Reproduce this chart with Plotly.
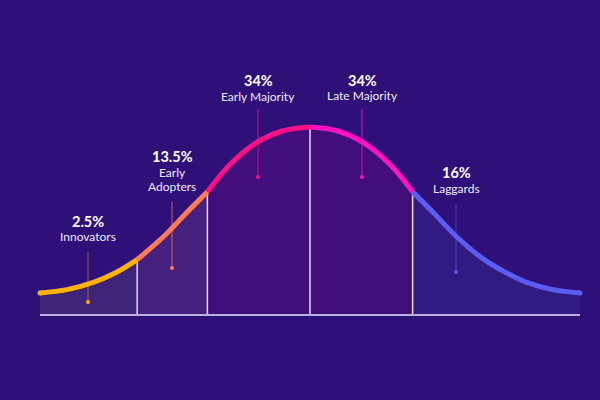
import plotly.graph_objects as go

# ---- data -------------------------------------------------------------
curve_x = [0, 5, 10, 14, 18, 23, 27, 31, 35, 40, 45, 50, 55, 60, 65, 69, 73, 77, 82, 86, 90, 95, 100]
curve_y = [11.7, 13.5, 17.5, 22.5, 29.5, 42, 54, 65.5, 79.5, 91.5, 98, 100, 98, 91.5, 79.5, 65.5, 54, 42, 30, 23, 17.5, 13.5, 11.7]

segment_bounds = [0, 18, 31, 50, 69, 100]
segment_shares = ["2.5%", "13.5%", "34%", "34%", "16%"]
segment_labels = [["Innovators"], ["Early", "Adopters"], ["Early Majority"], ["Late Majority"], ["Laggards"]]

# ---- styling / layout constants ----------------------------------------
BG = "#2f1078"
line_colors = ["#ffb300", "#ff7b55", "#ff0f85", "#ff12c4", "#5b5cf2"]
fill_colors = ["#3d2479", "#45207f", "#420e7c", "#420e7c", "#311a82"]
pointer_colors = ["rgba(255,170,0,0.5)", "rgba(255,123,85,0.75)", "rgba(255,15,133,0.75)",
                  "rgba(255,18,196,0.75)", "rgba(91,92,242,0.6)"]

# pixel -> data helpers (for layout positions only)
PX_X0, PX_PER_X = 40, 5.4
PX_Y0, PX_PER_Y = 315, 1.88


def dx(px):
    return (px - PX_X0) / PX_PER_X


def dy(py):
    return (PX_Y0 - py) / PX_PER_Y


pointer_px_x = [88, 172, 258, 362, 456]
pointer_px_top = [252, 202, 109, 109, 204]
pointer_px_bot = [302, 268, 177, 177, 272]
share_px_y = [221, 156, 80, 80, 172]
label_px_y = [[236], [172.5, 186], [96.5], [95.5], [188.5]]

fig = go.Figure()

# segment fills
for i in range(5):
    lo, hi = segment_bounds[i], segment_bounds[i + 1]
    xs = [x for x in curve_x if lo <= x <= hi]
    ys = [y for x, y in zip(curve_x, curve_y) if lo <= x <= hi]
    fig.add_trace(go.Scatter(x=xs, y=ys, mode="lines", line=dict(width=0, shape="spline", smoothing=1),
                             fill="tozeroy", fillcolor=fill_colors[i], hoverinfo="skip", showlegend=False))

# vertical boundary lines
for b in segment_bounds[1:-1]:
    yb = curve_y[curve_x.index(b)]
    fig.add_trace(go.Scatter(x=[b, b], y=[0, yb], mode="lines", line=dict(color="#e6def2", width=1.5),
                             hoverinfo="skip", showlegend=False))

# pointer lines with dots
for i in range(5):
    px = dx(pointer_px_x[i])
    fig.add_trace(go.Scatter(x=[px, px], y=[dy(pointer_px_top[i]), dy(pointer_px_bot[i])], mode="lines",
                             line=dict(color=pointer_colors[i], width=1), hoverinfo="skip", showlegend=False))
    fig.add_trace(go.Scatter(x=[px], y=[dy(pointer_px_bot[i])], mode="markers",
                             marker=dict(color=line_colors[i], size=4), hoverinfo="skip", showlegend=False))

# curve segments
for i in range(5):
    lo, hi = segment_bounds[i], segment_bounds[i + 1]
    xs = [x for x in curve_x if lo <= x <= hi]
    ys = [y for x, y in zip(curve_x, curve_y) if lo <= x <= hi]
    fig.add_trace(go.Scatter(x=xs, y=ys, mode="lines",
                             line=dict(color=line_colors[i], width=5, shape="spline", smoothing=1),
                             hoverinfo="skip", showlegend=False))

# round caps at the ends
fig.add_trace(go.Scatter(x=[curve_x[0]], y=[curve_y[0]], mode="markers",
                         marker=dict(color=line_colors[0], size=5), hoverinfo="skip", showlegend=False))
fig.add_trace(go.Scatter(x=[curve_x[-1]], y=[curve_y[-1]], mode="markers",
                         marker=dict(color=line_colors[-1], size=5), hoverinfo="skip", showlegend=False))

annotations = []
for i in range(5):
    ax = dx(pointer_px_x[i])
    annotations.append(dict(x=ax, y=dy(share_px_y[i]), text="<b>%s</b>" % segment_shares[i], showarrow=False,
                            xanchor="center", yanchor="middle", borderpad=0,
                            font=dict(family="Lato", size=14.5, color="#ffffff")))
    for txt, py in zip(segment_labels[i], label_px_y[i]):
        annotations.append(dict(x=ax, y=dy(py), text=txt, showarrow=False, xanchor="center", yanchor="middle",
                                borderpad=0, font=dict(family="Lato", size=12, color="#eeeaf6")))

fig.update_layout(
    width=600, height=400, margin=dict(l=0, r=0, t=0, b=0),
    paper_bgcolor=BG, plot_bgcolor=BG,
    xaxis=dict(range=[dx(0), dx(600)], visible=False, fixedrange=True),
    yaxis=dict(range=[dy(400), dy(0)], visible=False, fixedrange=True),
    shapes=[dict(type="line", xref="x", yref="y", x0=segment_bounds[0], x1=segment_bounds[-1], y0=0, y1=0,
                 line=dict(color="#bcaede", width=2), layer="above")],
    annotations=annotations,
)

fig.write_html("out.html", config={"displayModeBar": False},
               post_script="document.body.style.margin='0';document.body.style.background='%s';" % BG)
